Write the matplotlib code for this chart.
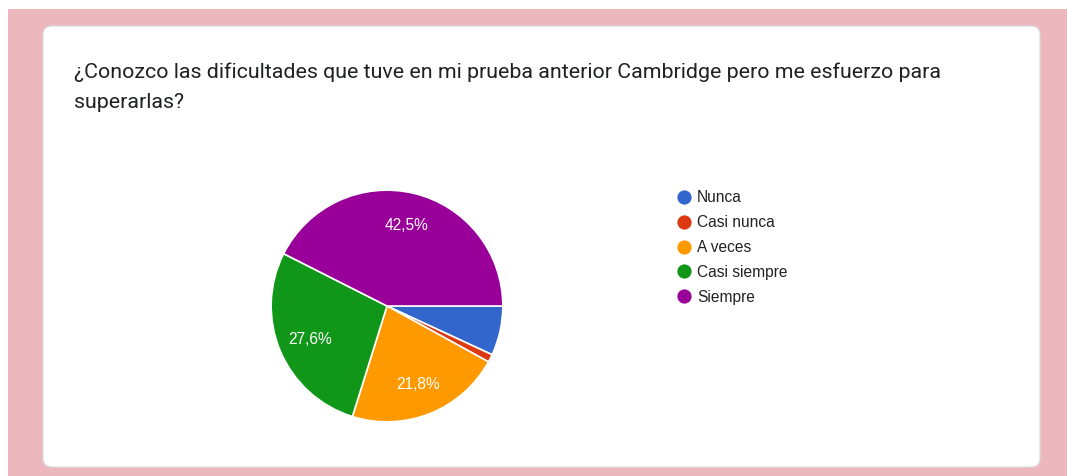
import matplotlib.pyplot as plt
from matplotlib.patches import FancyBboxPatch, Rectangle

# data
categories = ['Nunca', 'Casi nunca', 'A veces', 'Casi siempre', 'Siempre']
percentages = [6.9, 1.1, 21.8, 27.6, 42.5]
colors = ['#3366cc', '#dc3912', '#ff9900', '#109618', '#990099']
title_lines = ['¿Conozco las dificultades que tuve en mi prueba anterior Cambridge pero me esfuerzo para',
               'superarlas?']

W, H = 1067, 477
fig = plt.figure(figsize=(W / 100, H / 100), dpi=100)

# background in pixel coordinates (y from top)
bg = fig.add_axes([0, 0, 1, 1])
bg.set_xlim(0, W)
bg.set_ylim(H, 0)
bg.axis('off')
bg.add_patch(Rectangle((8, 10), W - 8, H - 10, color='#ecb8bd', lw=0))
bg.add_patch(FancyBboxPatch((43, 27), 997, 441, boxstyle='round,pad=0,rounding_size=9',
                            fc='white', ec='#dadce0', lw=0.8))

for i, line in enumerate(title_lines):
    bg.text(74, 72 + i * 30, line, fontsize=15.4, family=['Roboto', 'DejaVu Sans'],
            color='#202124', va='center', ha='left')

# legend
for i, (lab, col) in enumerate(zip(categories, colors)):
    y = 198 + i * 24.8
    bg.scatter([684], [y], s=105, color=col, lw=0)
    bg.text(697, y, lab, fontsize=11.2, family=['Liberation Sans', 'DejaVu Sans'],
            color='#222222', va='center', ha='left')

# pie
cx, cy, r = 387, 307, 117
ax = fig.add_axes([(cx - r) / W, (H - cy - r) / H, 2 * r / W, 2 * r / H])
wedges, texts, autotexts = ax.pie(
    percentages, colors=colors, startangle=0, counterclock=False,
    autopct=lambda p: f'{p:.1f}%'.replace('.', ',') if p > 10 else '',
    pctdistance=0.72, radius=1,
    wedgeprops=dict(edgecolor='white', linewidth=1.2),
    textprops=dict(color='white', fontsize=11.2, family=['Liberation Sans', 'DejaVu Sans']))
ax.set_xlim(-1.01, 1.01)
ax.set_ylim(-1.01, 1.01)
ax.set_aspect('equal')
ax.axis('off')

fig.savefig('out.png', dpi=100)
